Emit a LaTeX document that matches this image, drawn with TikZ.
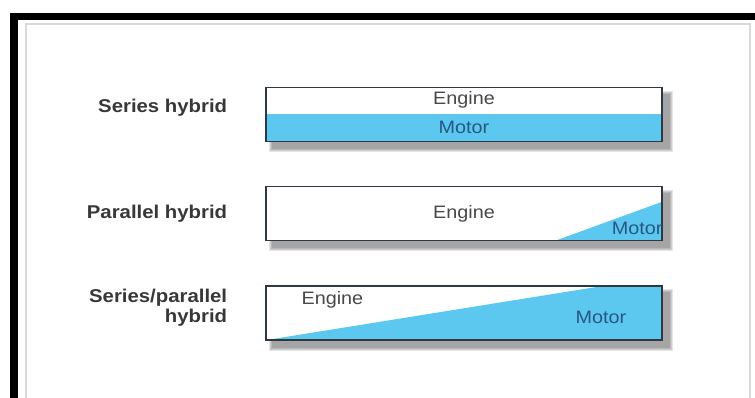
\documentclass[tikz,border=0pt]{standalone}
\usepackage{fontspec}
\setmainfont{Liberation Sans}[FakeStretch=1.1]
\usetikzlibrary{positioning,calc,backgrounds}
\definecolor{motorblue}{RGB}{92,200,240}
\definecolor{motortext}{RGB}{38,88,130}
\definecolor{enginetext}{RGB}{72,72,72}
\definecolor{boxline}{RGB}{46,56,66}

\begin{document}
\begin{tikzpicture}[x=1pt,y=-1pt,
  bar/.style={draw=boxline,line width=1.3pt,fill=white,minimum width=396pt,minimum height=54pt,inner sep=0pt},
  kind/.style={font=\fontsize{18.5}{20}\selectfont\bfseries,text=black!78,align=right,inner sep=0pt},
  eng/.style={font=\fontsize{18}{21}\selectfont,text=enginetext,inner sep=0pt},
  mot/.style={font=\fontsize{18}{21}\selectfont,text=motortext,inner sep=0pt},
  node distance=44pt]
\useasboundingbox (0,0) rectangle (755,398);
% the three bars
\node[bar,path picture={\fill[motorblue] (path picture bounding box.west) rectangle (path picture bounding box.south east);}] (series) at (464,114.5) {};
\node[bar,below=44pt of series,path picture={\fill[motorblue] ($(path picture bounding box.south east)+(-107,0)$) -- (path picture bounding box.south east) -- ($(path picture bounding box.north east)+(0,15)$) -- cycle;}] (parallel) {};
\node[bar,below=44pt of parallel,path picture={\fill[motorblue] (path picture bounding box.south west) -- ($(path picture bounding box.north west)+(336,0)$) -- (path picture bounding box.north east) -- (path picture bounding box.south east) -- cycle;}] (split) {};
% texts inside
\node[eng] (eng1) at ($(series.north)!0.24!(series.south)$) {Engine};
\node[mot] (mot1) at ($(series.north)!0.74!(series.south)$) {Motor};
\node[eng] (eng2) at (parallel) {Engine};
\node[mot,anchor=south east] (mot2) at ($(parallel.south east)+(0,-7)$) {Motor};
\node[eng,anchor=west] (eng3) at ($(split.west)+(36,-13)$) {Engine};
\node[mot] (mot3) at ($(split.center)+(137,4)$) {Motor};
% labels on the left
\node[kind,left=38pt of series,yshift=7pt] (lseries) {Series hybrid};
\node[kind,left=38pt of parallel] (lparallel) {Parallel hybrid};
\node[kind,left=38pt of split,yshift=5pt] (lsplit) {Series/parallel\\hybrid};
\begin{pgfonlayer}{background}
\fill[white] (0,0) rectangle (755,398);
\fill[black] (10,13) rectangle (755,20);
\fill[black] (10,13) rectangle (18,398);
\draw[black!15,line width=1.5pt] (26,398) -- (26,24) -- (750,24) -- (750,398);
\foreach \b in {series,parallel,split}
  \foreach \e in {0,1,2,3}
    \fill[black,opacity=.1] ($(\b.north west)+(7-\e,7-\e)$) rectangle ($(\b.south east)+(7+\e,7+\e)$);
\end{pgfonlayer}
\end{tikzpicture}
\end{document}
